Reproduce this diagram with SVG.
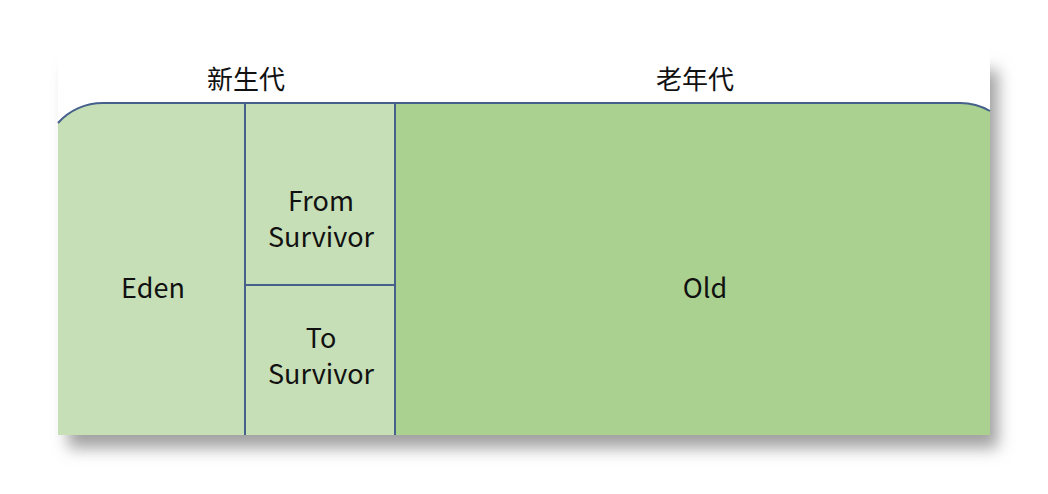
<svg xmlns="http://www.w3.org/2000/svg" width="1048" height="494" viewBox="0 0 1048 494">
<defs>
<filter id="sh" x="-10%" y="-20%" width="120%" height="140%"><feGaussianBlur stdDeviation="8"/></filter>
<clipPath id="shape"><path d="M58,123 A60,60 0 0 1 103,103 L960,103 A60,60 0 0 1 990,111 L990,435 L58,435 Z"/></clipPath>
</defs>
<style>
.t{font-family:"Noto Sans CJK SC","Liberation Sans",sans-serif;fill:#111;text-anchor:middle}
.h{font-size:26px}
.l{font-size:27px}
.ln{stroke:#45608A;stroke-width:2;fill:none}
</style>
<rect width="1048" height="494" fill="#fff"/>
<rect x="68" y="70" width="930" height="378" fill="#a0a0a0" filter="url(#sh)"/>
<rect x="58" y="40" width="932" height="395" fill="#fff"/>
<g id="young" clip-path="url(#shape)">
<rect x="50" y="100" width="345" height="340" fill="#C6DFB6"/>
</g>
<g id="old" clip-path="url(#shape)">
<rect x="395" y="100" width="600" height="340" fill="#AAD18F"/>
</g>
<g id="connectors">
<path class="ln" d="M58,123 A60,60 0 0 1 103,103 L960,103 A60,60 0 0 1 990,111"/>
<line class="ln" x1="245" y1="103" x2="245" y2="435"/>
<line class="ln" x1="395" y1="103" x2="395" y2="435"/>
<line class="ln" x1="245" y1="285" x2="395" y2="285"/>
</g>
<g id="labels">
<text class="t h" x="246" y="89">新生代</text>
<text class="t h" x="695" y="89">老年代</text>
</g>
<g id="eden"><text class="t l" x="153" y="298">Eden</text></g>
<g id="from"><text class="t l" x="321" y="211">From</text><text class="t l" x="321" y="247">Survivor</text></g>
<g id="to"><text class="t l" x="321" y="348">To</text><text class="t l" x="321" y="384">Survivor</text></g>
<g id="oldlabel"><text class="t l" x="705" y="298">Old</text></g>
</svg>
